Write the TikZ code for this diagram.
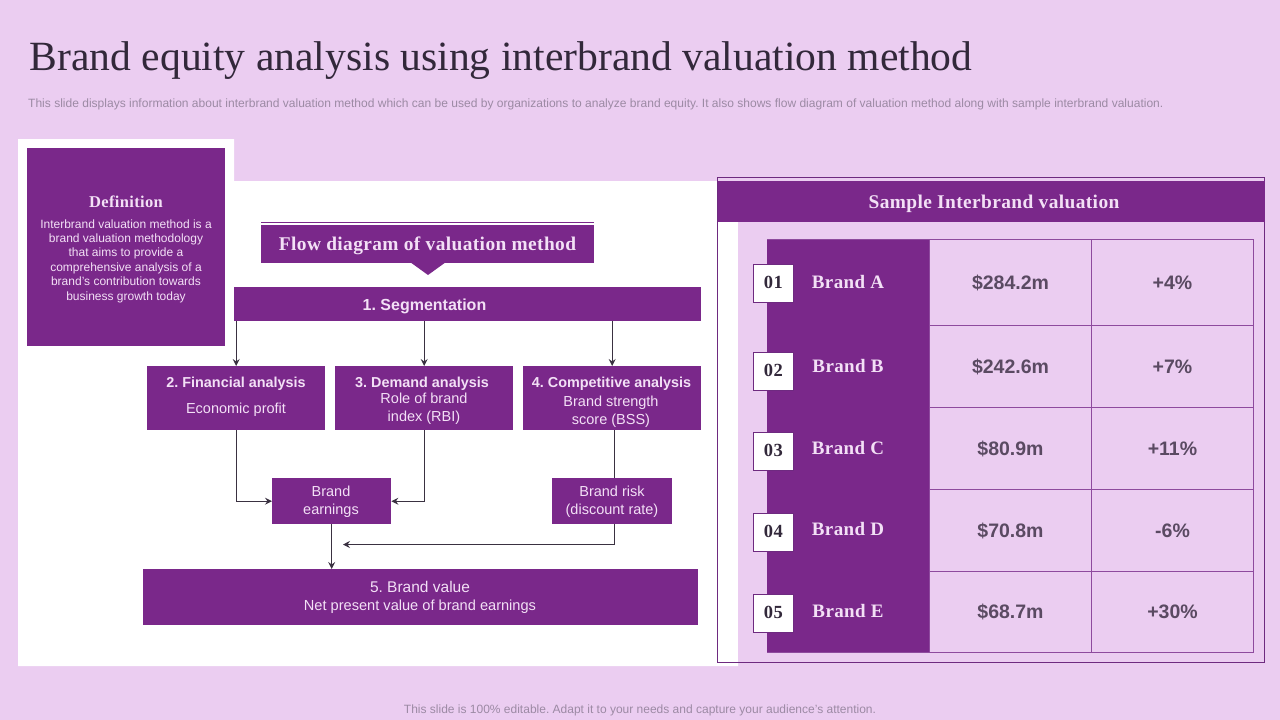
\documentclass[tikz,border=0pt]{standalone}
\usepackage{fontspec}
\setmainfont{Liberation Sans}
\newfontfamily\headfont[LetterSpace=2.0]{Liberation Serif}
\newfontfamily\titlefont{Liberation Serif}
\usepackage{tikz}
\usetikzlibrary{arrows.meta,positioning}
\definecolor{lilac}{HTML}{EBCDF1}
\definecolor{plum}{HTML}{7A288A}
\definecolor{pale}{HTML}{F3E0F6}
\definecolor{inkdark}{HTML}{32283A}
\definecolor{inkgrey}{HTML}{5A4A62}
\definecolor{subgrey}{HTML}{9C8AA4}
\definecolor{gridline}{HTML}{8E4A9E}
\definecolor{framedark}{HTML}{6E2A80}
\newcommand{\pxfont}[1]{\fontsize{#1}{1.2\dimexpr #1pt\relax}\selectfont}
\newcommand{\tagnum}[1]{\raisebox{1.5pt}{#1}}
\frenchspacing

\begin{document}
\begin{tikzpicture}[x=1pt,y=-1pt,>={Stealth[length=7pt,width=7pt,inset=2.5pt]}]
\tikzstyle{block}=[fill=plum,text=pale,inner sep=0pt,align=center,font=\pxfont{15},anchor=north west];
\tikzstyle{cell}=[draw=gridline,line width=1pt,fill=lilac,text=inkgrey,inner sep=0pt,font=\bfseries\pxfont{19.5},anchor=north west];
\tikzstyle{tag}=[draw=framedark,line width=0.7pt,fill=white,text=inkdark,inner sep=0pt,font=\headfont\bfseries\pxfont{18.5},anchor=north west,minimum width=40pt,minimum height=38pt];
\tikzstyle{label}=[text=pale,inner sep=0pt,align=center];
\tikzstyle{link}=[draw=inkdark!90!gray,line width=0.9pt];
\useasboundingbox (0,0) rectangle (1280,720);
\fill[lilac] (0,0) rectangle (1280,720);
% white panel behind the flow diagram
\fill[white] (18,139) -- (234,139) -- (234,181) -- (738,181) -- (738,666) -- (18,666) -- cycle;
% heading and notes
\node (title) [anchor=west,inner sep=0pt,text=inkdark,font=\titlefont\pxfont{41.6}] at (29.5,60.5) {Brand equity analysis using interbrand valuation method};
\node (subtitle) [anchor=west,inner sep=0pt,text=subgrey,font=\pxfont{12.03}] at (28,104) {This slide displays information about interbrand valuation method which can be used by organizations to analyze brand equity. It also shows flow diagram of valuation method along with sample interbrand valuation.};
\node (footer) [inner sep=0pt,text=subgrey,font=\pxfont{12}] at (640,710) {This slide is 100\% editable. Adapt it to your needs and capture your audience's attention.};
% definition
\node (defbox) [block,minimum width=198pt,minimum height=198pt] at (27,148) {};
\node (defhead) [label,font=\headfont\bfseries\pxfont{16.5}] at (126,201.5) {Definition};
\node (deftext) [label,font=\fontsize{12}{14.4}\selectfont] at (126,261) {Interbrand valuation method is a\\brand valuation methodology\\that aims to provide a\\comprehensive analysis of a\\brand's contribution towards\\business growth today};
% flow diagram
\node (flowhead) [block,minimum width=333pt,minimum height=38pt] at (261,225) {};
\node (flowtext) [label,font=\headfont\bfseries\pxfont{19.4}] at (427.5,246) {Flow diagram of valuation method};
\draw[plum,line width=0.8pt] ([yshift=3pt]flowhead.north west) -- ([yshift=3pt]flowhead.north east);
\fill[plum] (410,262) -- (446,262) -- (428,275) -- cycle;
\node (seg) [block,minimum width=467pt,minimum height=34pt] at (234,287) {};
\node (segtext) [label,font=\bfseries\pxfont{16}] at (424.5,306) {1. Segmentation};
\node (fin) [block,minimum width=178pt,minimum height=64pt] at (147,366) {};
\node (dem) [block,minimum width=178pt,minimum height=64pt] at (335,366) {};
\node (comp) [block,minimum width=178pt,minimum height=64pt] at (523,366) {};
\node (finhead) [label,font=\bfseries\pxfont{14.4}] at (236,383.5) {2. Financial analysis};
\node (finbody) [label,font=\pxfont{14.5}] at (236,410) {Economic profit};
\node (demhead) [label,font=\bfseries\pxfont{14.4}] at (422,383.5) {3. Demand analysis};
\node (dembody) [label,font=\fontsize{14.5}{18}\selectfont] at (424,408.5) {Role of brand\\index (RBI)};
\node (comphead) [label,font=\bfseries\pxfont{14.4}] at (611.5,383.5) {4. Competitive analysis};
\node (compbody) [label,font=\fontsize{14.5}{18}\selectfont] at (611,411.5) {Brand strength\\score (BSS)};
\node (earn) [block,minimum width=119pt,minimum height=46pt] at (272,478) {};
\node (earntext) [label,font=\fontsize{14.5}{18}\selectfont] at (331,501.5) {Brand\\earnings};
\node (risk) [block,minimum width=120pt,minimum height=46pt] at (552,478) {};
\node (risktext) [label,font=\fontsize{14.5}{18}\selectfont] at (612,501.5) {Brand risk\\(discount rate)};
\node (value) [block,minimum width=555pt,minimum height=56pt] at (143,569) {};
\node (valuetext) [label,font=\fontsize{14.6}{18}\selectfont] at (420,597) {{\pxfont{15.5}5. Brand value}\\Net present value of brand earnings};
\coordinate (riskend) at (343,544.5);
\path[link,->] (seg.south -| fin.north) -- (fin.north);
\path[link,->] (seg.south -| dem.north) -- (dem.north);
\path[link,->] (seg.south -| comp.north) -- (comp.north);
\path[link,->] (fin.south) -- (fin.south |- earn.west) -- (earn.west);
\path[link,->] (dem.south) -- (dem.south |- earn.east) -- (earn.east);
\path[link] ([xshift=2.5pt]comp.south) -- ([xshift=2.5pt]risk.north);
\path[link,->] ([xshift=2.5pt]risk.south) -- ([xshift=2.5pt]risk.south |- riskend) -- (riskend);
\path[link,->] (earn.south) -- (earn.south |- value.north);
% sample valuation
\draw[framedark,line width=0.9pt] (717.5,177) rectangle (1264.5,662);
\fill[white] (718,222) rectangle (738,661.5);
\fill[lilac] (738,222) rectangle (1264,661.5);
\node (samplehead) [block,minimum width=547pt,minimum height=41pt] at (718,181) {};
\node (sampletext) [label,font=\headfont\bfseries\pxfont{19.4}] at (994,204) {Sample Interbrand valuation};
\node (brandcol) [block,minimum width=162pt,minimum height=413pt] at (767,239) {};
\node (a1) [cell,minimum width=162pt,minimum height=86pt] at (929,239) {\$284.2m};
\node (a2) [cell,minimum width=162pt,minimum height=86pt] at (1091,239) {+4\%};
\node (b1) [cell,minimum width=162pt,minimum height=82pt] at (929,325) {\$242.6m};
\node (b2) [cell,minimum width=162pt,minimum height=82pt] at (1091,325) {+7\%};
\node (c1) [cell,minimum width=162pt,minimum height=82pt] at (929,407) {\$80.9m};
\node (c2) [cell,minimum width=162pt,minimum height=82pt] at (1091,407) {+11\%};
\node (d1) [cell,minimum width=162pt,minimum height=82pt] at (929,489) {\$70.8m};
\node (d2) [cell,minimum width=162pt,minimum height=82pt] at (1091,489) {-6\%};
\node (e1) [cell,minimum width=162pt,minimum height=81pt] at (929,571) {\$68.7m};
\node (e2) [cell,minimum width=162pt,minimum height=81pt] at (1091,571) {+30\%};
\draw[gridline,line width=1pt] (brandcol.north west) -- (brandcol.north east);
\draw[gridline,line width=1pt] (brandcol.south west) -- (brandcol.south east);
\node (tag1) [tag] at (753,264) {\tagnum{01}};
\node (tag2) [tag] at (753,352) {\tagnum{02}};
\node (tag3) [tag] at (753,432) {\tagnum{03}};
\node (tag4) [tag] at (753,513) {\tagnum{04}};
\node (tag5) [tag] at (753,594) {\tagnum{05}};
\node (namea) [label,font=\headfont\bfseries\pxfont{19}] at (848,282) {Brand A};
\node (nameb) [label,font=\headfont\bfseries\pxfont{19}] at (848,366) {Brand B};
\node (namec) [label,font=\headfont\bfseries\pxfont{19}] at (848,448) {Brand C};
\node (named) [label,font=\headfont\bfseries\pxfont{19}] at (848,529) {Brand D};
\node (namee) [label,font=\headfont\bfseries\pxfont{19}] at (848,611) {Brand E};
\end{tikzpicture}
\end{document}
